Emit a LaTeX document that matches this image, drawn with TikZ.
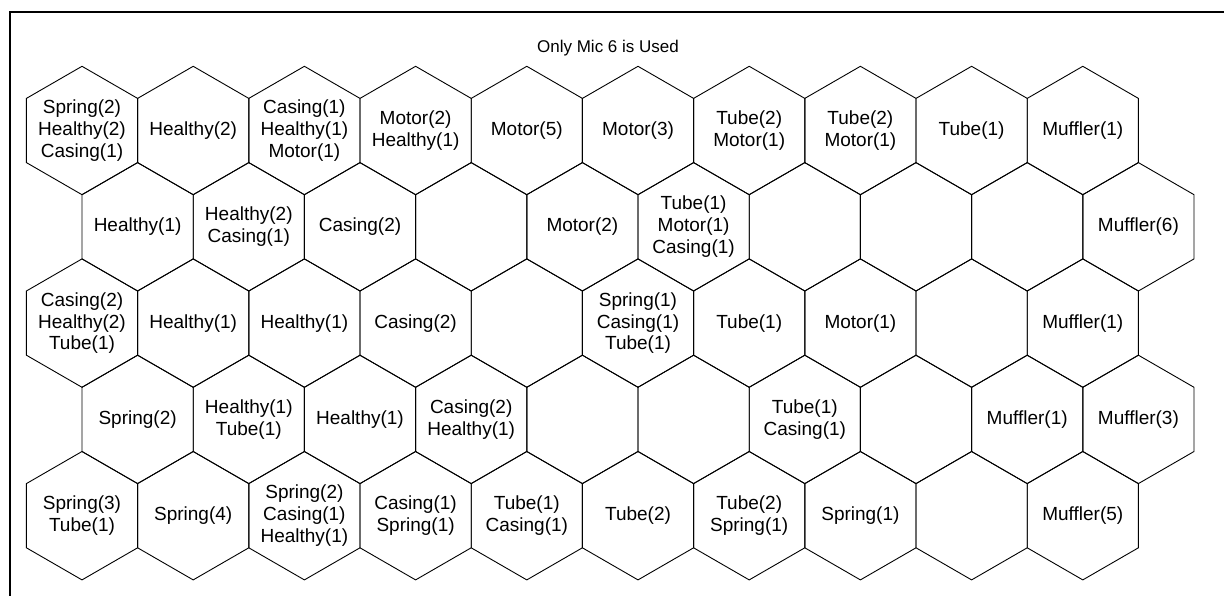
\documentclass[tikz,border=0pt]{standalone}
\usepackage{fontspec}
\setmainfont{Liberation Sans}
\begin{document}
\begin{tikzpicture}[x=1pt,y=-1pt,
  hexline/.style={draw=black,line width=0.9pt,line join=miter},
  lbl/.style={align=center,font=\fontsize{19}{21.8}\selectfont,inner sep=0pt},
  ttl/.style={font=\fontsize{17}{20}\selectfont,inner sep=0pt},
  frameline/.style={line width=2pt,draw=black}]
\useasboundingbox (0,0) rectangle (1224,596);
\def\R{64.2}
\foreach \r/\c/\t in {
 1/1/{Spring(2)\\Healthy(2)\\Casing(1)}, 1/2/{Healthy(2)}, 1/3/{Casing(1)\\Healthy(1)\\Motor(1)},
 1/4/{Motor(2)\\Healthy(1)}, 1/5/{Motor(5)}, 1/6/{Motor(3)}, 1/7/{Tube(2)\\Motor(1)},
 1/8/{Tube(2)\\Motor(1)}, 1/9/{Tube(1)}, 1/10/{Muffler(1)},
 2/1/{Healthy(1)}, 2/2/{Healthy(2)\\Casing(1)}, 2/3/{Casing(2)}, 2/4/{}, 2/5/{Motor(2)},
 2/6/{Tube(1)\\Motor(1)\\Casing(1)}, 2/7/{}, 2/8/{}, 2/9/{}, 2/10/{Muffler(6)},
 3/1/{Casing(2)\\Healthy(2)\\Tube(1)}, 3/2/{Healthy(1)}, 3/3/{Healthy(1)}, 3/4/{Casing(2)},
 3/5/{}, 3/6/{Spring(1)\\Casing(1)\\Tube(1)}, 3/7/{Tube(1)}, 3/8/{Motor(1)}, 3/9/{}, 3/10/{Muffler(1)},
 4/1/{Spring(2)}, 4/2/{Healthy(1)\\Tube(1)}, 4/3/{Healthy(1)}, 4/4/{Casing(2)\\Healthy(1)},
 4/5/{}, 4/6/{}, 4/7/{Tube(1)\\Casing(1)}, 4/8/{}, 4/9/{Muffler(1)}, 4/10/{Muffler(3)},
 5/1/{Spring(3)\\Tube(1)}, 5/2/{Spring(4)}, 5/3/{Spring(2)\\Casing(1)\\Healthy(1)},
 5/4/{Casing(1)\\Spring(1)}, 5/5/{Tube(1)\\Casing(1)}, 5/6/{Tube(2)}, 5/7/{Tube(2)\\Spring(1)},
 5/8/{Spring(1)}, 5/9/{}, 5/10/{Muffler(5)}}{
  \pgfmathsetmacro{\cx}{82+(\c-1)*111.2+mod(\r+1,2)*55.6}
  \pgfmathsetmacro{\cy}{130.5+(\r-1)*96.3}
  \node[lbl] (t-\r-\c) at (\cx,\cy) {\t};
  \draw[hexline] (\cx,\cy) +(90:\R) -- +(30:\R) -- +(-30:\R) -- +(-90:\R)
     -- +(-150:\R) -- +(150:\R) -- cycle;
}
\node[ttl] (title) at (608,48) {Only Mic 6 is Used};
\draw[frameline] (1240,12) -- (10,12) -- (10,610);
\end{tikzpicture}
\end{document}
